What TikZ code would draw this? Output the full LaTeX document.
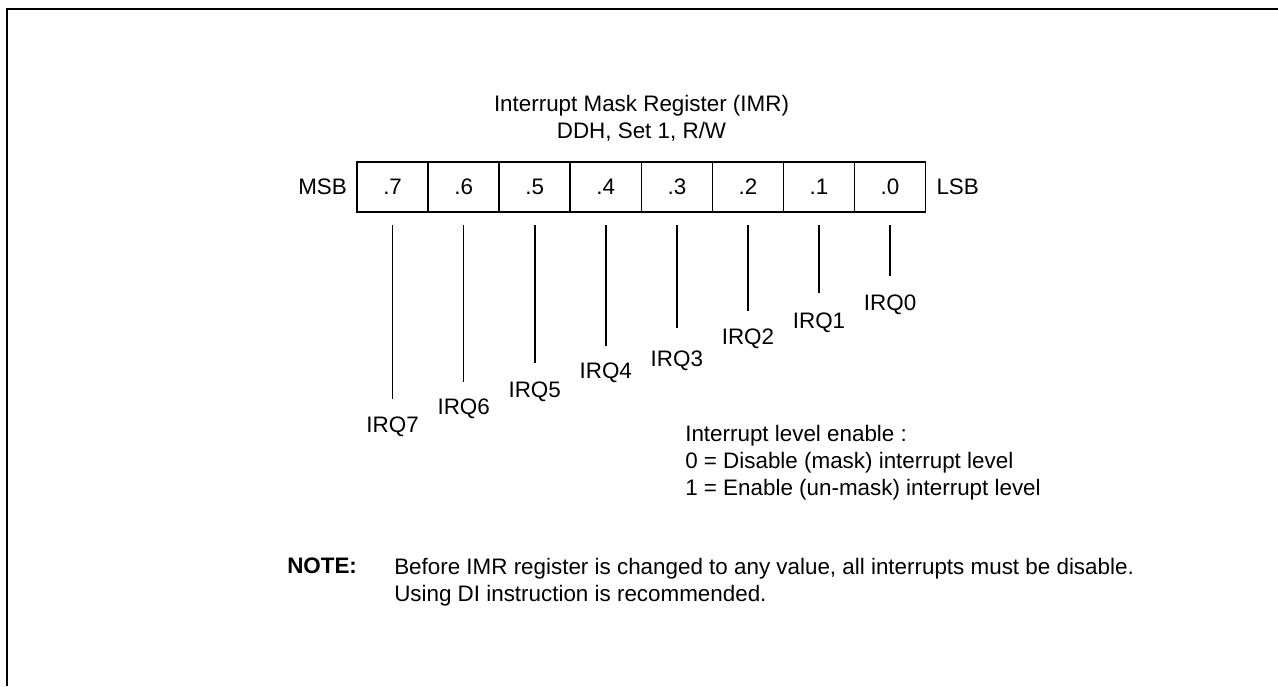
\documentclass[tikz,border=0pt]{standalone}
\usepackage{fontspec}
\setmainfont{Liberation Sans}
\usetikzlibrary{positioning}

\tikzset{
  bitcell/.style={draw,line width=1.2pt,minimum width=53.3pt,minimum height=37.5pt,inner sep=0pt,outer sep=0pt},
  irqlabel/.style={inner sep=0pt,outer sep=0pt},
  leader/.style={line width=1.2pt,shorten <=9.75pt},
}

\begin{document}
\begin{tikzpicture}[x=0.75pt,y=-0.75pt,font=\fontsize{16.8}{20.25}\selectfont]
\useasboundingbox (0,0) rectangle (1278,686);
% frame
\draw[line width=1.5pt] (6.7,686) -- (6.7,8.8) -- (1278,8.8);
\node[align=center,anchor=north,inner sep=0pt] (title) at (641.5,94.6) {Interrupt Mask Register (IMR)\\DDH, Set 1, R/W};
% register cells
\node[bitcell] (b7) at (392.6,187) {.7};
\foreach \i/\j in {6/7,5/6,4/5,3/4,2/3,1/2,0/1}
  \node[bitcell,right=0pt of b\j] (b\i) {.\i};
\node[left=7.5pt of b7,inner sep=0pt] (msb) {MSB};
\node[right=8pt of b0,inner sep=0pt] (lsb) {LSB};
% bit / line end / gap to label
\foreach \i/\e/\g in {7/399/13.5pt,6/381.5/13.1pt,5/363/13.9pt,4/346/12.75pt,3/328/16.9pt,2/311/13.5pt,1/293/14.6pt,0/276/13.9pt}{
  \coordinate (e\i) at (b\i.south |- 0,\e);
  \draw[leader] (b\i.south) -- (e\i);
  \node[irqlabel,below=\g of e\i] (q\i) {IRQ\i};
}
\node[align=left,anchor=north west,inner sep=0pt] (legend) at (685,424.6) {Interrupt level enable :\\0 = Disable (mask) interrupt level\\1 = Enable (un-mask) interrupt level};
\node[anchor=north west,inner sep=0pt] (note) at (287,558) {\bfseries NOTE:};
\node[align=left,anchor=north west,inner sep=0pt] (notetext) at (394,558) {Before IMR register is changed to any value, all interrupts must be disable.\\Using DI instruction is recommended.};
\end{tikzpicture}
\end{document}
